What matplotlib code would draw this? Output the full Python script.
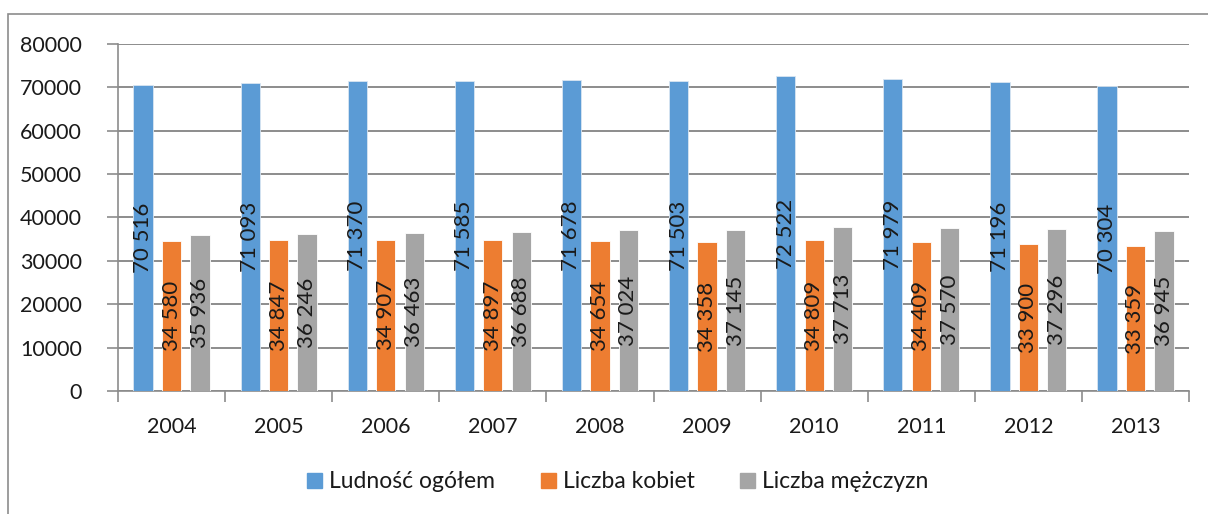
import numpy as np
import matplotlib
matplotlib.use("Agg")
import matplotlib.pyplot as plt
from matplotlib.patches import Rectangle

plt.rcParams['font.family'] = ['Lato', 'DejaVu Sans']

# Data
years = ['2004', '2005', '2006', '2007', '2008', '2009', '2010', '2011', '2012', '2013']
ludnosc = [70516, 71093, 71370, 71585, 71678, 71503, 72522, 71979, 71196, 70304]
kobiety = [34580, 34847, 34907, 34897, 34654, 34358, 34809, 34409, 33900, 33359]
mezczyzni = [35936, 36246, 36463, 36688, 37024, 37145, 37713, 37570, 37296, 36945]
series_names = ['Ludność ogółem', 'Liczba kobiet', 'Liczba mężczyzn']
colors = ['#5B9BD5', '#ED7D31', '#A5A5A5']

fig = plt.figure(figsize=(12.08, 5.14), dpi=100)
ax = fig.add_axes([118 / 1208, 1 - 391 / 514, (1189 - 118) / 1208, (391 - 44) / 514])

# outer chart frame (only top and left edges are visible in the crop)
fig.patches.append(Rectangle((8 / 1208, -0.1), 1.2, 1 - 14 / 514 + 0.1, transform=fig.transFigure,
                             fill=False, edgecolor='#8c8c8c', linewidth=1.2))

x = np.arange(len(years))
width = 0.18
offset = 0.266

for i, (vals, col) in enumerate(zip([ludnosc, kobiety, mezczyzni], colors)):
    pos = x + (i - 1) * offset
    bars = ax.bar(pos, vals, width, color=col, edgecolor='#d9e6f2' if i == 0 else 'white',
                  linewidth=0.6, zorder=3)
    for b, v in zip(bars, vals):
        ax.text(b.get_x() + b.get_width() / 2, v / 2, f"{v:,}".replace(',', ' '),
                rotation=90, ha='center', va='center', fontsize=16, color='#1a1a1a', zorder=4)

ax.set_xlim(-0.5, len(years) - 0.5)
ax.set_ylim(0, 80000)
ax.set_yticks(np.arange(0, 80001, 10000))
ax.yaxis.grid(True, color='#8c8c8c', linewidth=1.4, zorder=0)
ax.tick_params(axis='y', length=8, color='#8c8c8c', width=1.2, labelsize=15.5, pad=18, labelcolor='#1a1a1a')

ax.set_xticks(x)
ax.set_xticklabels(years)
ax.set_xticks(np.arange(-0.5, len(years)), minor=True)
ax.tick_params(axis='x', which='major', length=0, labelsize=15.5, pad=19, labelcolor='#1a1a1a')
ax.tick_params(axis='x', which='minor', length=8, color='#8c8c8c', width=1.2)

for s in ['top', 'right']:
    ax.spines[s].set_visible(False)
for s in ['left', 'bottom']:
    ax.spines[s].set_color('#8c8c8c')
    ax.spines[s].set_linewidth(1.2)

handles = [Rectangle((0, 0), 1, 1, color=c) for c in colors]
fig.legend(handles, series_names, loc='center', bbox_to_anchor=(618 / 1208, 1 - 482 / 514),
           ncol=3, frameon=False, fontsize=16.5, handlelength=0.65, handleheight=0.65,
           handletextpad=0.3, columnspacing=2.0, labelcolor='#1a1a1a')

fig.savefig('out.png', dpi=100)
